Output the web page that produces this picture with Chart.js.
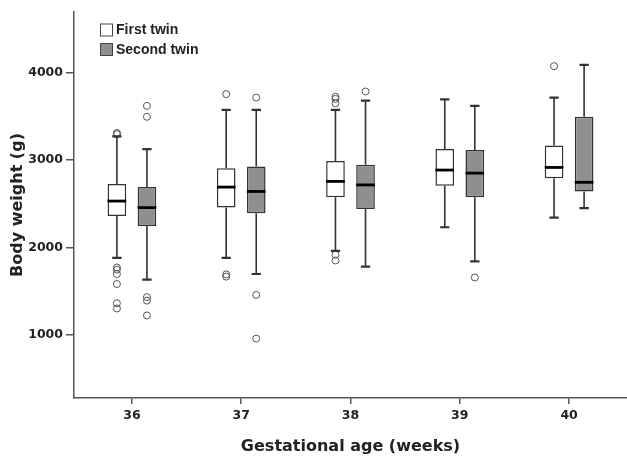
<!DOCTYPE html>
<html>
<head>
<meta charset="utf-8">
<script src="https://cdn.jsdelivr.net/npm/chart.js@4.4.1/dist/chart.umd.min.js"></script>
<style>
  html, body { margin: 0; padding: 0; background: #ffffff; }
  #wrap { width: 627px; height: 456px; position: relative; }
</style>
</head>
<body>
<div id="wrap"><canvas id="chart"></canvas></div>
<script>
// Gestational age groups and y tick values
const weeks = [36, 37, 38, 39, 40];
const yTicks = [1000, 2000, 3000, 4000];

// First twin: whiskers, quartiles, median, outliers (g)
const firstLow  = [1880, 1880, 1960, 2230, 2340];
const firstQ1   = [2360, 2455, 2575, 2705, 2790];
const firstMed  = [2530, 2690, 2755, 2885, 2915];
const firstQ3   = [2725, 2905, 2990, 3125, 3165];
const firstHigh = [3270, 3575, 3575, 3695, 3715];
const firstOutliers = [
    [3295, 3310, 1770, 1745, 1695, 1580, 1360, 1300],
    [3755, 1690, 1665],
    [3725, 3700, 3650, 1915, 1850],
    [],
    [4075]
];

// Second twin
const secondLow  = [1630, 1695, 1780, 1840, 2450];
const secondQ1   = [2245, 2390, 2440, 2575, 2640];
const secondMed  = [2455, 2640, 2715, 2850, 2745];
const secondQ3   = [2690, 2925, 2945, 3115, 3495];
const secondHigh = [3125, 3575, 3680, 3620, 4090];
const secondOutliers = [
    [3620, 3495, 1430, 1390, 1220],
    [3715, 1455, 955],
    [3785],
    [1655],
    []
];

const AXIS_COLOR = '#555555';
const TEXT_COLOR = '#222222';
const LINE_COLOR = '#333333';
const SECOND_FILL = '#8f8f8f';
const FONT = "'DejaVu Sans', sans-serif";
const LEGEND_FONT = "'Liberation Sans', Arial, sans-serif";
const SHIFT = 0.1374; // half a group slot, in weeks

function boxData(q1, q3) {
    return weeks.map((w, i) => ({ x: w, y: [q1[i], q3[i]] }));
}

function outlierData(list, shift) {
    const pts = [];
    list.forEach((vals, i) => vals.forEach(v => pts.push({ x: weeks[i] + shift, y: v })));
    return pts;
}

/**
 * Whiskers, caps and medians, placed on the bar elements
 */
const whiskerPlugin = {
    id: 'whiskers',
    afterDatasetsDraw(chart) {
        const ctx = chart.ctx;
        const y = chart.scales.y;
        const series = [
            { ds: 0, lo: firstLow, q1: firstQ1, med: firstMed, q3: firstQ3, hi: firstHigh },
            { ds: 1, lo: secondLow, q1: secondQ1, med: secondMed, q3: secondQ3, hi: secondHigh }
        ];
        ctx.save();
        series.forEach(s => {
            const meta = chart.getDatasetMeta(s.ds);
            meta.data.forEach((bar, i) => {
                const cx = bar.x;
                const half = bar.width / 2;
                const cap = bar.width / 4;

                ctx.strokeStyle = LINE_COLOR;
                ctx.lineWidth = 1.6;
                ctx.beginPath();
                ctx.moveTo(cx, y.getPixelForValue(s.q3[i]));
                ctx.lineTo(cx, y.getPixelForValue(s.hi[i]));
                ctx.moveTo(cx, y.getPixelForValue(s.q1[i]));
                ctx.lineTo(cx, y.getPixelForValue(s.lo[i]));
                ctx.stroke();

                ctx.lineWidth = 2.2;
                ctx.beginPath();
                ctx.moveTo(cx - cap, y.getPixelForValue(s.hi[i]));
                ctx.lineTo(cx + cap, y.getPixelForValue(s.hi[i]));
                ctx.moveTo(cx - cap, y.getPixelForValue(s.lo[i]));
                ctx.lineTo(cx + cap, y.getPixelForValue(s.lo[i]));
                ctx.stroke();

                ctx.strokeStyle = '#000000';
                ctx.lineWidth = 2.8;
                ctx.beginPath();
                ctx.moveTo(cx - half, y.getPixelForValue(s.med[i]));
                ctx.lineTo(cx + half, y.getPixelForValue(s.med[i]));
                ctx.stroke();
            });
        });
        ctx.restore();
    }
};

/**
 * Legend inside the plot, top-left
 */
const legendPlugin = {
    id: 'boxLegend',
    afterDraw(chart) {
        const ctx = chart.ctx;
        const items = [
            { label: 'First twin', fill: '#ffffff' },
            { label: 'Second twin', fill: SECOND_FILL }
        ];
        ctx.save();
        ctx.font = 'bold 14px ' + LEGEND_FONT;
        ctx.textBaseline = 'middle';
        items.forEach((item, i) => {
            const top = 23.5 + i * 19.5;
            ctx.fillStyle = item.fill;
            ctx.fillRect(100, top, 13, 13);
            ctx.strokeStyle = '#444444';
            ctx.lineWidth = 1;
            ctx.strokeRect(100.5, top + 0.5, 12, 12);
            ctx.fillStyle = TEXT_COLOR;
            ctx.fillText(item.label, 116, top + 7);
        });
        ctx.restore();
    }
};

const ctx = document.getElementById('chart').getContext('2d');

new Chart(ctx, {
    type: 'bar',
    data: {
        datasets: [
            {
                label: 'First twin',
                data: boxData(firstQ1, firstQ3),
                backgroundColor: '#ffffff',
                borderColor: LINE_COLOR,
                borderWidth: 1.5,
                borderSkipped: false
            },
            {
                label: 'Second twin',
                data: boxData(secondQ1, secondQ3),
                backgroundColor: SECOND_FILL,
                borderColor: LINE_COLOR,
                borderWidth: 1.5,
                borderSkipped: false
            },
            {
                type: 'scatter',
                label: 'First twin outliers',
                data: outlierData(firstOutliers, -SHIFT),
                pointStyle: 'circle',
                pointRadius: 3.5,
                backgroundColor: 'rgba(255,255,255,0)',
                borderColor: '#555555',
                borderWidth: 1
            },
            {
                type: 'scatter',
                label: 'Second twin outliers',
                data: outlierData(secondOutliers, SHIFT),
                pointStyle: 'circle',
                pointRadius: 3.5,
                backgroundColor: 'rgba(255,255,255,0)',
                borderColor: '#555555',
                borderWidth: 1
            }
        ]
    },
    options: {
        responsive: true,
        maintainAspectRatio: false,
        animation: false,
        devicePixelRatio: 1,
        categoryPercentage: 0.55,
        barPercentage: 0.62,
        layout: { autoPadding: false, padding: { top: 12, right: 0, bottom: 0, left: 0 } },
        plugins: {
            legend: { display: false },
            tooltip: { enabled: false }
        },
        scales: {
            x: {
                type: 'linear',
                offset: false,
                min: 35.47,
                max: 40.53,
                afterBuildTicks: scale => { scale.ticks = weeks.map(v => ({ value: v })); },
                afterFit: scale => { scale.height = 58; scale.paddingLeft = 0; scale.paddingRight = 0; },
                grid: { display: true, offset: false, drawOnChartArea: false, drawTicks: true, tickLength: 6, color: AXIS_COLOR, lineWidth: 1.5 },
                border: { display: true, color: AXIS_COLOR, width: 1.5 },
                ticks: {
                    color: TEXT_COLOR,
                    padding: 4,
                    maxRotation: 0,
                    font: { family: FONT, size: 12.5, weight: 'bold' },
                    callback: v => String(v)
                },
                title: {
                    display: true,
                    text: 'Gestational age (weeks)',
                    color: TEXT_COLOR,
                    font: { family: FONT, size: 16, weight: 'bold' },
                    padding: { top: 0, bottom: 0 }
                }
            },
            y: {
                min: 275,
                max: 4695,
                afterBuildTicks: scale => { scale.ticks = yTicks.map(v => ({ value: v })); },
                afterFit: scale => { scale.width = 74; },
                grid: { display: true, drawOnChartArea: false, drawTicks: true, tickLength: 8, color: AXIS_COLOR, lineWidth: 1.5 },
                border: { display: true, color: AXIS_COLOR, width: 1.5 },
                ticks: {
                    color: TEXT_COLOR,
                    padding: 3,
                    font: { family: FONT, size: 12.5, weight: 'bold' },
                    callback: v => String(v)
                },
                title: {
                    display: true,
                    text: 'Body weight (g)',
                    color: TEXT_COLOR,
                    font: { family: FONT, size: 16, weight: 'bold' },
                    padding: { top: 8, bottom: 0 }
                }
            }
        }
    },
    plugins: [whiskerPlugin, legendPlugin]
});
</script>
</body>
</html>
